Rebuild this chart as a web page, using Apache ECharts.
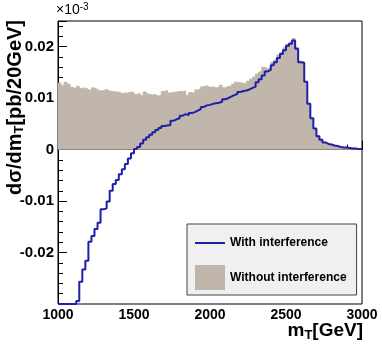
<!DOCTYPE html>
<html>
<head>
<meta charset="utf-8">
<script src="https://cdn.jsdelivr.net/npm/echarts@6/dist/echarts.min.js"></script>
<style>
  html, body { margin: 0; padding: 0; background: #fff; }
  #chart { width: 382px; height: 354px; }
</style>
</head>
<body>
<div id="chart"></div>
<script>
// m_T histogram, 20 GeV bins from 1000 to 3000 GeV (values in units of 1e-3 pb/20GeV)
var binStart = 1000;
var binWidth = 20;

var withoutInterference = [
  0.0129, 0.0124, 0.0131, 0.0127, 0.0121, 0.0118, 0.0123, 0.0119, 0.0120, 0.0117,
  0.0114, 0.0120, 0.0117, 0.0114, 0.0115, 0.0117, 0.0114, 0.0113, 0.0112, 0.0112,
  0.0109, 0.0110, 0.0110, 0.0112, 0.0111, 0.0107, 0.0110, 0.0105, 0.0112, 0.0108,
  0.0106, 0.0107, 0.0104, 0.0106, 0.0113, 0.0115, 0.0110, 0.0111, 0.0112, 0.0113,
  0.0113, 0.0114, 0.0105, 0.0111, 0.0109, 0.0116, 0.0118, 0.0122, 0.0124, 0.0121,
  0.0122, 0.0120, 0.0121, 0.0125, 0.0120, 0.0123, 0.0122, 0.0127, 0.0131, 0.0130,
  0.0129, 0.0127, 0.0133, 0.0137, 0.0141, 0.0147, 0.0151, 0.0160, 0.0157, 0.0159,
  0.0170, 0.0174, 0.0184, 0.0189, 0.0198, 0.0205, 0.0209, 0.0216, 0.0199, 0.0172,
  0.0170, 0.0128, 0.0088, 0.0060, 0.0040, 0.0027, 0.0020, 0.0015, 0.0012, 0.0010,
  0.0008, 0.0007, 0.0005, 0.0005, 0.0004, 0.0003, 0.0003, 0.0002, 0.0002, 0.0001
];

var withInterference = [
  -0.0300, -0.0300, -0.0300, -0.0300, -0.0300, -0.0300, -0.0294, -0.0257, -0.0233, -0.0216,
  -0.0179, -0.0168, -0.0154, -0.0142, -0.0116, -0.0114, -0.0101, -0.0080, -0.0067, -0.0059,
  -0.0048, -0.0038, -0.0028, -0.0017, -0.0007, 0.0001, 0.0005, 0.0012, 0.0019, 0.0024,
  0.0029, 0.0034, 0.0038, 0.0042, 0.0046, 0.0047, 0.0048, 0.0056, 0.0059, 0.0061,
  0.0066, 0.0069, 0.0067, 0.0071, 0.0073, 0.0076, 0.0079, 0.0083, 0.0086, 0.0087,
  0.0089, 0.0090, 0.0091, 0.0093, 0.0098, 0.0100, 0.0103, 0.0106, 0.0108, 0.0112,
  0.0114, 0.0115, 0.0117, 0.0120, 0.0122, 0.0131, 0.0137, 0.0144, 0.0152, 0.0155,
  0.0164, 0.0170, 0.0178, 0.0186, 0.0193, 0.0202, 0.0206, 0.0212, 0.0196, 0.0170,
  0.0169, 0.0132, 0.0089, 0.0061, 0.0041, 0.0026, 0.0019, 0.0014, 0.0011, 0.0010,
  0.0008, 0.0007, 0.0005, 0.0004, 0.0004, 0.0003, 0.0002, 0.0002, 0.0001, 0.0001
];

var yTickLabels = [-0.02, -0.01, 0, 0.01, 0.02];
var seriesNames = ['With interference', 'Without interference'];

var fillColor = '#c0b6ac';
var lineColor = '#1f1fa8';
var font = 'Liberation Sans';

// histogram -> step points at bin lower edges, plus closing edge
function toSteps(vals) {
  var pts = vals.map(function (v, i) { return [binStart + i * binWidth, v]; });
  pts.push([binStart + vals.length * binWidth, vals[vals.length - 1]]);
  return pts;
}

var chart = echarts.init(document.getElementById('chart'));

var option = {
  animation: false,
  grid: {
    left: 58, right: 20, top: 21, bottom: 50,
    show: true, borderColor: '#000', borderWidth: 1
  },
  xAxis: {
    type: 'value',
    min: 1000, max: 3000, interval: 500,
    axisLine: { lineStyle: { color: '#000' } },
    axisTick: { inside: true, length: 9, lineStyle: { color: '#000' } },
    minorTick: { show: true, splitNumber: 5, length: 5, lineStyle: { color: '#000' } },
    splitLine: { show: false },
    axisLabel: {
      color: '#000', fontFamily: font, fontWeight: 'bold', fontSize: 14, margin: 4,
      formatter: function (v) { return String(v); }
    }
  },
  yAxis: {
    type: 'value',
    min: -0.03, max: 0.025, interval: 0.01,
    axisLine: { show: true, lineStyle: { color: '#000' } },
    axisTick: { show: true, inside: true, length: 9, lineStyle: { color: '#000' } },
    minorTick: { show: true, splitNumber: 5, length: 5, lineStyle: { color: '#000' } },
    splitLine: { show: false },
    axisLabel: {
      color: '#000', fontFamily: font, fontWeight: 'bold', fontSize: 15, margin: 4,
      formatter: function (v) {
        for (var i = 0; i < yTickLabels.length; i++) {
          if (Math.abs(v - yTickLabels[i]) < 1e-9) return String(yTickLabels[i]);
        }
        return '';
      }
    }
  },
  legend: {
    orient: 'vertical',
    left: 187, top: 224,
    itemWidth: 30, itemHeight: 25, itemGap: 16,
    padding: [13, 10, 5, 8],
    backgroundColor: '#f0f0f0',
    borderColor: '#444', borderWidth: 1,
    textStyle: { color: '#000', fontFamily: font, fontWeight: 'bold', fontSize: 12 },
    data: [
      { name: seriesNames[0], icon: 'path://M0,0H30V2H0Z' },
      { name: seriesNames[1], icon: 'rect' }
    ]
  },
  graphic: [
    {
      type: 'text', left: 56, top: 2,
      style: {
        text: '×10{sup|-3}',
        fill: '#000', font: '14px "Liberation Sans"',
        rich: { sup: { fontSize: 10, fontFamily: font, padding: [0, 0, 7, 0] } }
      }
    },
    {
      type: 'text', x: 15, y: 20, rotation: Math.PI / 2,
      style: {
        text: 'dσ/dm{sub|T}[pb/20GeV]',
        fill: '#000', font: 'bold 20px "Liberation Sans"',
        align: 'right', verticalAlign: 'middle',
        rich: { sub: { fontSize: 13, fontWeight: 'bold', fontFamily: font, padding: [9, 0, 0, 0] } }
      }
    },
    {
      type: 'text', right: 19, top: 321,
      style: {
        text: 'm{sub|T}[GeV]',
        fill: '#000', font: 'bold 19px "Liberation Sans"',
        rich: { sub: { fontSize: 13, fontWeight: 'bold', fontFamily: font, padding: [9, 0, 0, 0] } }
      }
    }
  ],
  series: [
    {
      name: seriesNames[1],
      type: 'line',
      step: 'end',
      symbol: 'none',
      data: toSteps(withoutInterference),
      itemStyle: { color: fillColor },
      lineStyle: { color: fillColor, width: 1 },
      areaStyle: { color: fillColor, opacity: 1 },
      z: 1
    },
    {
      name: seriesNames[0],
      type: 'line',
      step: 'end',
      symbol: 'none',
      clip: false,
      data: toSteps(withInterference),
      itemStyle: { color: lineColor },
      lineStyle: { color: lineColor, width: 2 },
      z: 3
    }
  ]
};

chart.setOption(option);
window.addEventListener('resize', chart.resize);
</script>
</body>
</html>
